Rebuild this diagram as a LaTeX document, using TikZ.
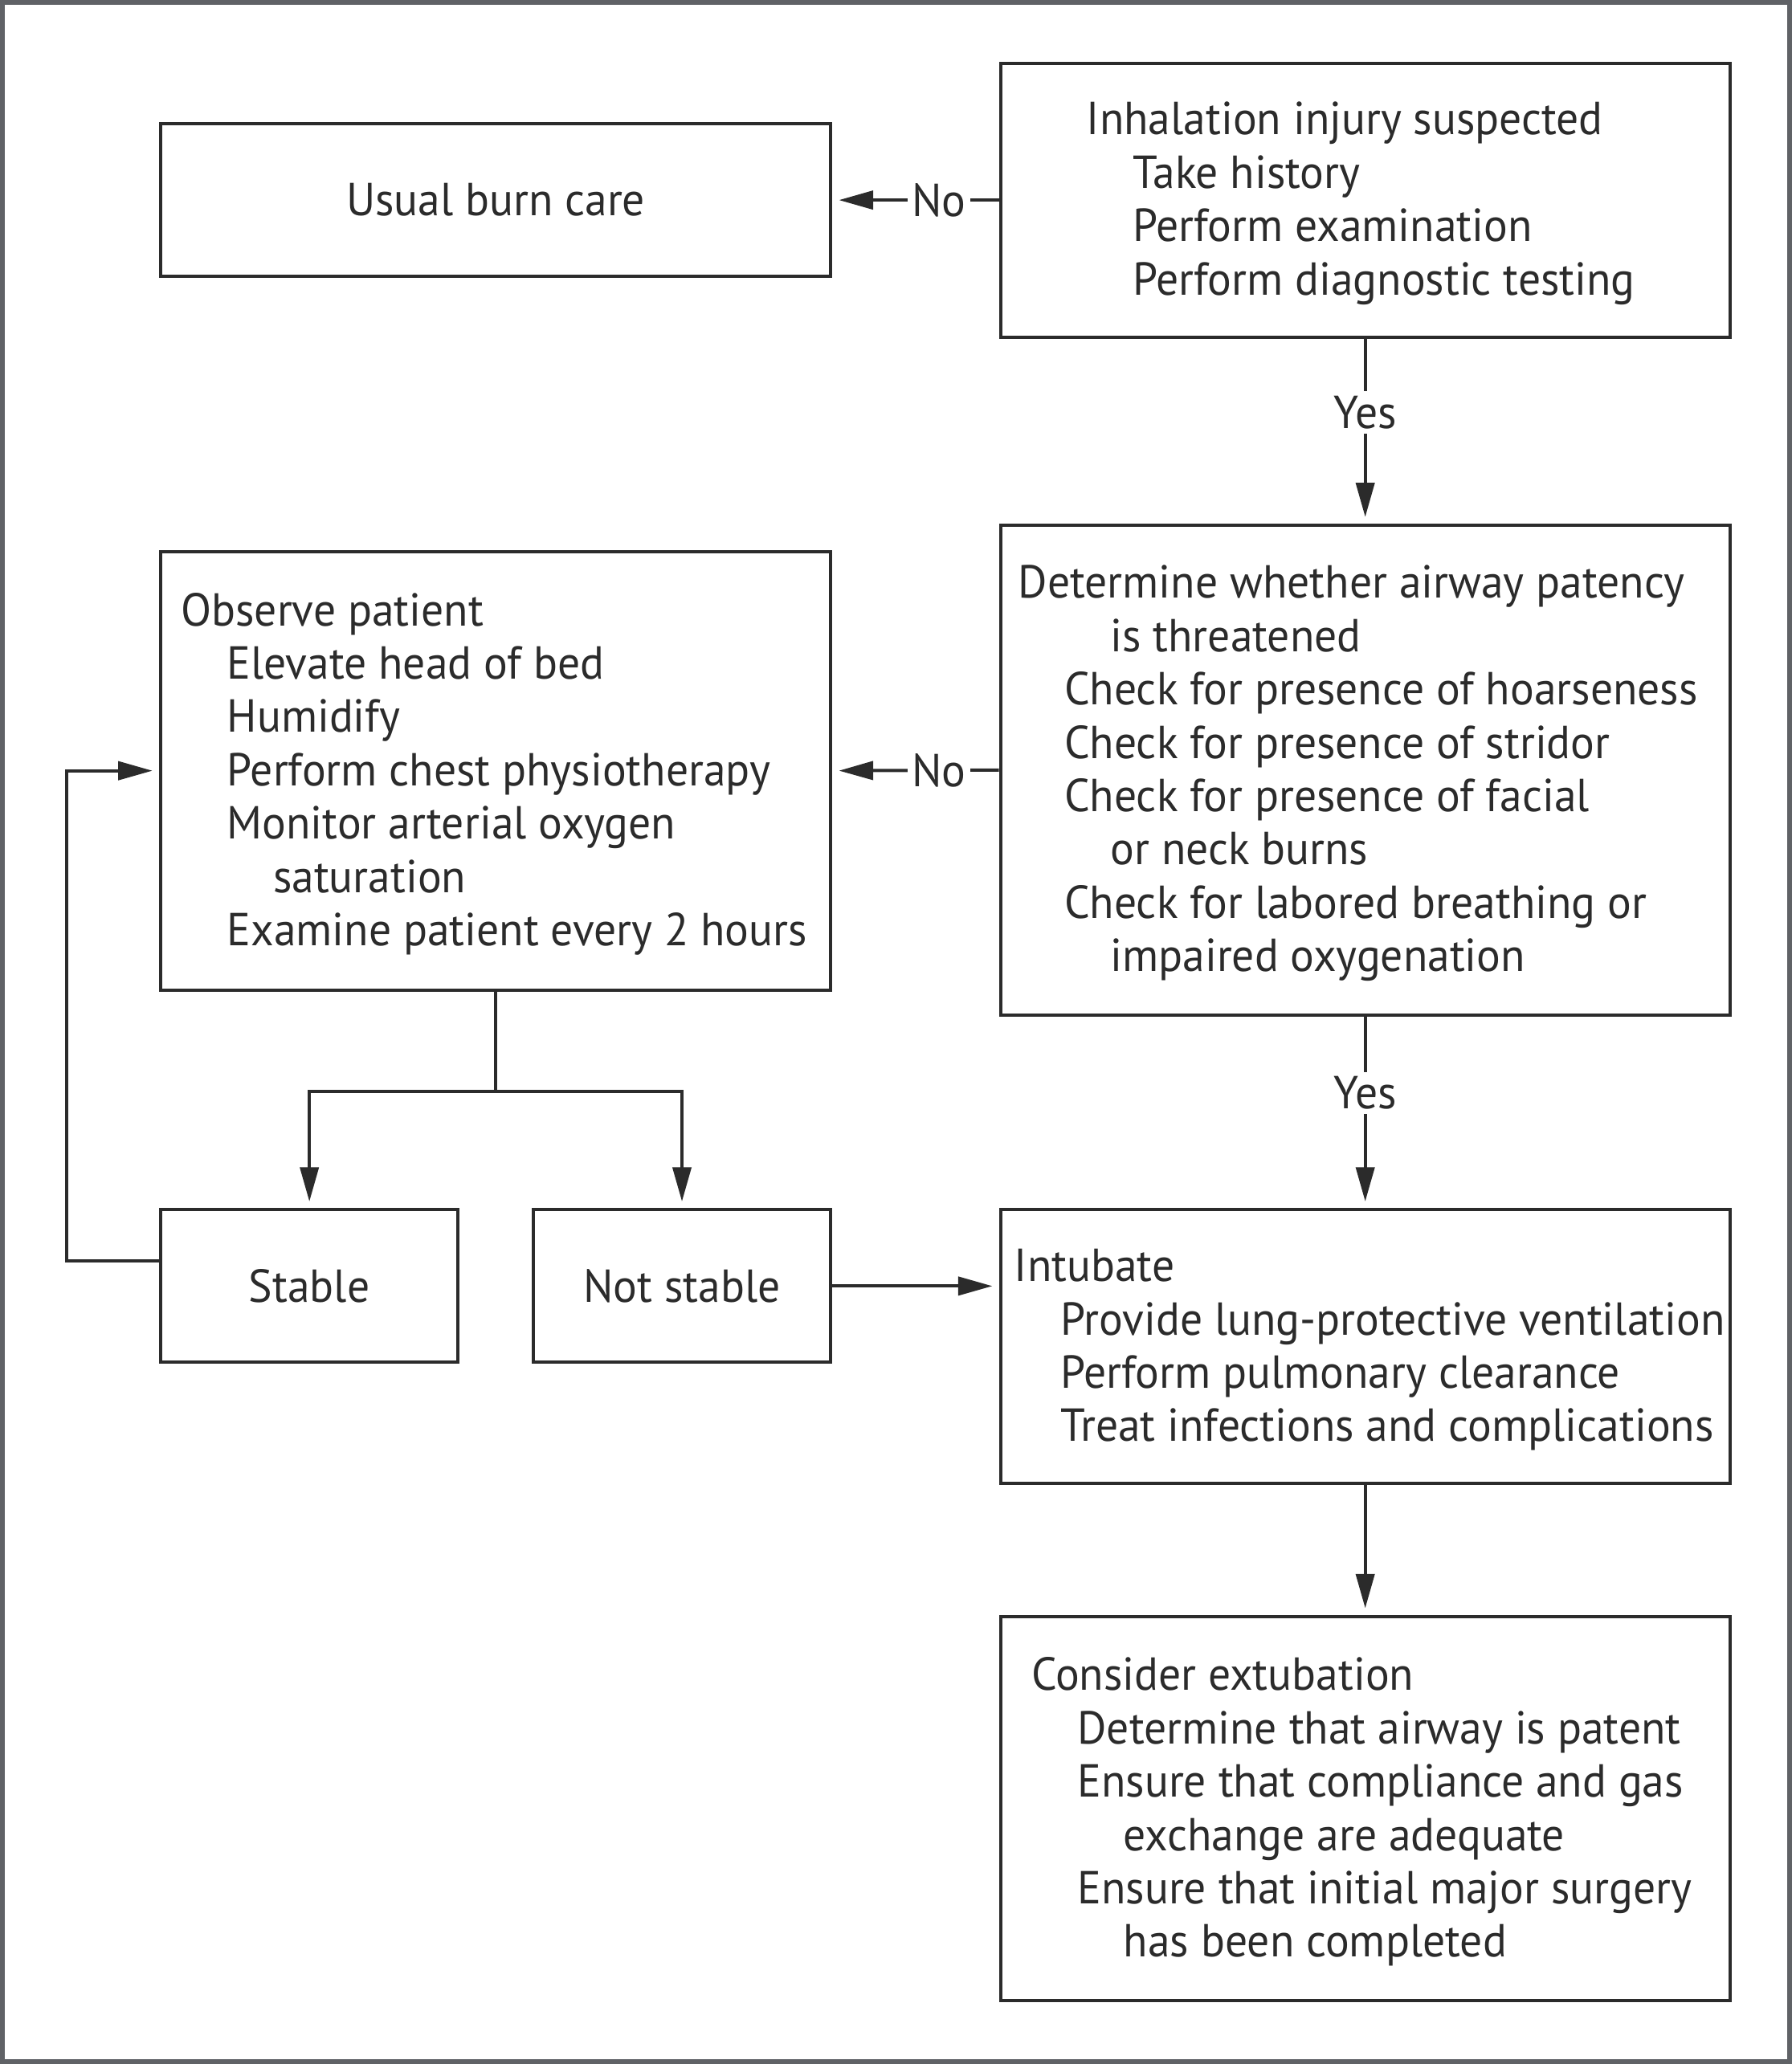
\documentclass[tikz,border=0pt]{standalone}
\usepackage{fontspec}
\setmainfont[FakeStretch=0.965]{PT Sans}
\usetikzlibrary{arrows.meta,positioning}
\definecolor{ink}{HTML}{2B2B2B}
\definecolor{framegray}{HTML}{606266}
\tikzset{
  box/.style={draw=ink, line width=0.7pt, inner sep=0pt, text=ink},
  txt/.style={inner sep=0pt, align=left, text=ink, yshift=-0.025cm, font=\fontsize{10pt}{11.52pt}\selectfont},
  arr/.style={draw=ink, line width=0.7pt, -{Triangle[length=0.26cm,width=0.14cm]}, shorten >=0.05cm},
  lbl/.style={fill=white, inner sep=1pt, text=ink, font=\fontsize{10pt}{11.52pt}\selectfont}
}
\newcommand{\ia}{\hspace*{0.35cm}}
\newcommand{\ib}{\hspace*{0.70cm}}
\begin{document}
\begin{tikzpicture}

	\useasboundingbox (0,0) rectangle (13.61,-15.68);
	\draw[framegray, line width=1.05pt] (0.0185,-0.0185) rectangle (13.5915,-15.6615);

	% boxes
	\node[box, minimum width=5.09cm, minimum height=1.16cm, font=\fontsize{10pt}{11.52pt}\selectfont] (usual) at (3.765,-1.52) {Usual burn care};
	\node[box, minimum width=5.54cm, minimum height=2.08cm] (inhal) at (10.37,-1.52) {};
	\node[box, minimum width=5.54cm, minimum height=3.72cm] (airway) at (10.37,-5.85) {};
	\node[box, minimum width=5.09cm, minimum height=3.33cm] (observe) at (3.765,-5.855) {};
	\node[box, minimum width=2.26cm, minimum height=1.16cm, font=\fontsize{10pt}{11.52pt}\selectfont] (stable) at (2.35,-9.77) {Stable};
	\node[box, minimum width=2.26cm, minimum height=1.16cm, font=\fontsize{10pt}{11.52pt}\selectfont] (notstable) at (5.18,-9.77) {Not stable};
	\node[box, minimum width=5.54cm, minimum height=2.08cm] (intub) at (10.37,-10.23) {};
	\node[box, minimum width=5.54cm, minimum height=2.92cm] (extub) at (10.37,-13.74) {};

	% texts
	\node[txt, right=0.66cm of inhal.west] (inhaltxt) {Inhalation injury suspected\\
		\ia Take history\\
		\ia Perform examination\\
		\ia Perform diagnostic testing};
	\node[txt, right=0.14cm of airway.west] (airwaytxt) {Determine whether airway patency\\
		\ib is threatened\\
		\ia Check for presence of hoarseness\\
		\ia Check for presence of stridor\\
		\ia Check for presence of facial\\
		\ib or neck burns\\
		\ia Check for labored breathing or\\
		\ib impaired oxygenation};
	\node[txt, right=0.16cm of observe.west] (observetxt) {Observe patient\\
		\ia Elevate head of bed\\
		\ia Humidify\\
		\ia Perform chest physiotherapy\\
		\ia Monitor arterial oxygen\\
		\ib saturation\\
		\ia Examine patient every 2 hours};
	\node[txt, right=0.11cm of intub.west] (intubtxt) {Intubate\\
		\ia Provide lung-protective ventilation\\
		\ia Perform pulmonary clearance\\
		\ia Treat infections and complications};
	\node[txt, right=0.24cm of extub.west] (extubtxt) {Consider extubation\\
		\ia Determine that airway is patent\\
		\ia Ensure that compliance and gas\\
		\ib exchange are adequate\\
		\ia Ensure that initial major surgery\\
		\ib has been completed};

	% connectors
	\coordinate (fork) at ([yshift=-0.76cm]observe.south);
	\draw[arr] (inhal.west) -- node[lbl, pos=0.36] {No} (usual.east);
	\draw[arr] (inhal.south) -- node[lbl, pos=0.4] {Yes} (airway.north);
	\draw[arr] (airway.west) -- node[lbl, pos=0.36] {No} (observe.east);
	\draw[arr] (airway.south) -- node[lbl, pos=0.4] {Yes} (intub.north);
	\draw[arr] (observe.south) -- (fork) -| (stable.north);
	\draw[arr] (fork) -| (notstable.north);
	\draw[arr] ([yshift=0.19cm]stable.west) -- ++(-0.7,0) |- (observe.west);
	\draw[arr] (notstable.east) -- (notstable.east -| intub.west);
	\draw[arr] (intub.south) -- (extub.north);

\end{tikzpicture}
\end{document}
